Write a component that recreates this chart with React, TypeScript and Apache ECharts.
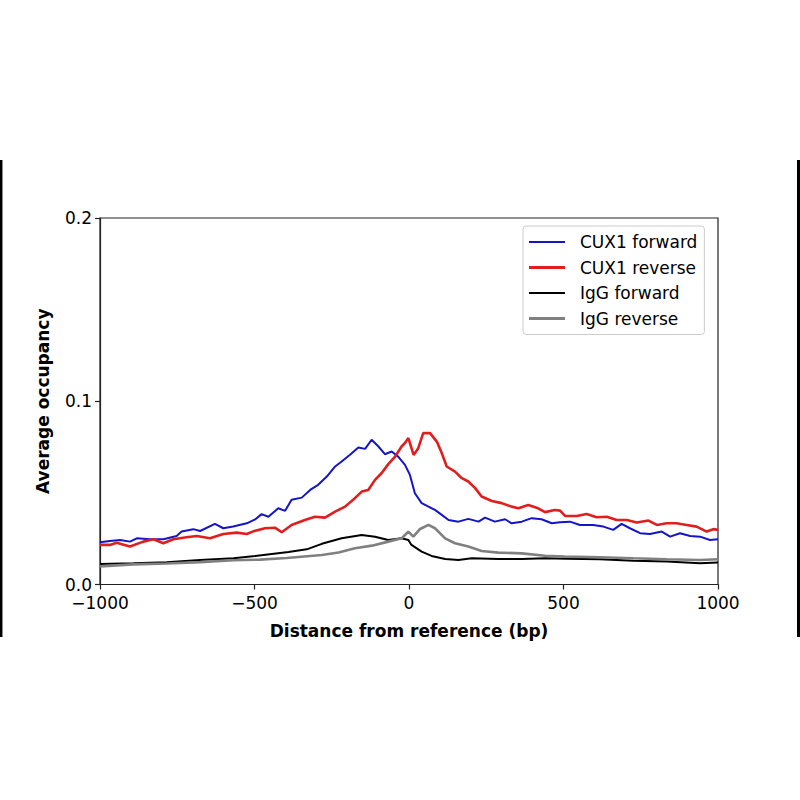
import React, { useEffect, useRef } from "react";
import * as echarts from "echarts";

// CUX1 forward
const cux1ForwardBp = [-1000, -968, -935, -903, -881, -838, -795, -752, -736, -698, -676, -628, -601, -569, -525, -498, -477, -455, -423, -401, -380, -347, -320, -294, -266, -239, -218, -191, -164, -142, -121, -99, -78, -56, -35, -13, 3, 19, 41, 63, 84, 106, 128, 160, 192, 225, 246, 278, 311, 332, 365, 397, 429, 462, 489, 521, 553, 596, 629, 661, 688, 715, 748, 780, 818, 845, 877, 910, 942, 974, 1000];
const cux1ForwardVal = [0.0231, 0.0238, 0.0243, 0.0234, 0.0252, 0.0247, 0.0247, 0.0265, 0.0289, 0.0302, 0.0292, 0.0331, 0.0307, 0.0316, 0.0334, 0.0355, 0.0384, 0.037, 0.0416, 0.0402, 0.0462, 0.0474, 0.0516, 0.0544, 0.0589, 0.0644, 0.0671, 0.0708, 0.0748, 0.074, 0.079, 0.0753, 0.0711, 0.0726, 0.0698, 0.0653, 0.0598, 0.0498, 0.0444, 0.0425, 0.0407, 0.038, 0.0352, 0.0343, 0.0358, 0.0343, 0.0365, 0.0343, 0.0356, 0.0334, 0.0343, 0.0362, 0.0356, 0.0334, 0.034, 0.0343, 0.0325, 0.0325, 0.0316, 0.0298, 0.0331, 0.0307, 0.028, 0.0276, 0.0289, 0.0261, 0.028, 0.0265, 0.0261, 0.0243, 0.0247];

// CUX1 reverse
const cux1ReverseBp = [-1000, -968, -946, -903, -860, -827, -795, -763, -720, -687, -644, -601, -558, -525, -504, -466, -434, -412, -380, -337, -304, -272, -239, -207, -175, -153, -132, -110, -89, -67, -45, -24, -13, -2, 15, 30, 46, 68, 90, 106, 122, 149, 171, 192, 214, 235, 268, 300, 332, 354, 386, 418, 440, 472, 489, 505, 543, 575, 607, 640, 672, 705, 737, 775, 802, 834, 866, 899, 931, 963, 985, 1000];
const cux1ReverseVal = [0.0216, 0.0216, 0.0228, 0.0207, 0.0234, 0.0247, 0.0225, 0.0247, 0.0258, 0.0265, 0.0252, 0.0276, 0.0283, 0.0276, 0.029, 0.0307, 0.031, 0.0285, 0.0325, 0.0352, 0.037, 0.0365, 0.0398, 0.0425, 0.0471, 0.0507, 0.0516, 0.0571, 0.0607, 0.0657, 0.0698, 0.0753, 0.0772, 0.0799, 0.0707, 0.0744, 0.0826, 0.0826, 0.078, 0.0717, 0.0644, 0.0616, 0.058, 0.0562, 0.0526, 0.048, 0.0456, 0.0444, 0.0425, 0.0416, 0.0434, 0.0416, 0.0395, 0.0407, 0.0403, 0.0374, 0.0374, 0.0385, 0.0367, 0.037, 0.0352, 0.0352, 0.0338, 0.0349, 0.0325, 0.0334, 0.0334, 0.0325, 0.0316, 0.0289, 0.0302, 0.0298];

// IgG forward
const iggForwardBp = [-1000, -892, -784, -676, -568, -498, -390, -331, -282, -218, -153, -110, -67, -24, -2, 8, 41, 73, 117, 160, 203, 289, 365, 440, 510, 618, 726, 834, 942, 1000];
const iggForwardVal = [0.0112, 0.0116, 0.0121, 0.0134, 0.0143, 0.0155, 0.0177, 0.0192, 0.0222, 0.0252, 0.027, 0.0261, 0.0243, 0.0252, 0.0243, 0.0216, 0.0179, 0.0156, 0.0139, 0.0134, 0.0143, 0.0139, 0.0139, 0.0143, 0.0141, 0.0138, 0.013, 0.0125, 0.0116, 0.012];

// IgG reverse
const iggReverseBp = [-1000, -892, -784, -676, -568, -482, -396, -282, -228, -175, -120, -67, -24, -13, -2, 14, 36, 63, 84, 117, 149, 192, 235, 289, 365, 440, 503, 618, 726, 834, 942, 1000];
const iggReverseVal = [0.0099, 0.011, 0.0115, 0.0122, 0.0132, 0.0136, 0.0145, 0.0161, 0.0175, 0.0198, 0.0212, 0.0234, 0.0252, 0.027, 0.0289, 0.0261, 0.0303, 0.0325, 0.0307, 0.0252, 0.0225, 0.0207, 0.0183, 0.0174, 0.017, 0.0157, 0.0152, 0.0149, 0.0143, 0.0138, 0.0134, 0.0138];

const seriesNames = ["CUX1 forward", "CUX1 reverse", "IgG forward", "IgG reverse"];
const seriesColors = ["#1414c8", "#e01e1e", "#000000", "#808080"];
const seriesWidths = [2, 2.6, 2, 2.6];
const xTicks = { min: -1000, max: 1000, interval: 500 };
const yTicks = { min: 0, max: 0.2, interval: 0.1 };

const FONT = "DejaVu Sans";

function zip(xs: number[], ys: number[]) {
  return xs.map((x, i) => [x, ys[i]]);
}

export default function App() {
  const ref = useRef<HTMLDivElement>(null);
  useEffect(() => {
    if (!ref.current) return;
    const chart = echarts.init(ref.current, undefined, { renderer: "svg" });
    const xs = [cux1ForwardBp, cux1ReverseBp, iggForwardBp, iggReverseBp];
    const ys = [cux1ForwardVal, cux1ReverseVal, iggForwardVal, iggReverseVal];
    const series = seriesNames.map((name, i) => ({
      name,
      type: "line",
      data: zip(xs[i], ys[i]),
      symbol: "none",
      showSymbol: false,
      lineStyle: { color: seriesColors[i], width: seriesWidths[i] },
      itemStyle: { color: seriesColors[i] },
      z: 3,
    }));
    const legendData = seriesNames.map((name, i) => ({
      name,
      icon: seriesWidths[i] > 2.2 ? "path://M0,0H36V3H0Z" : "path://M0,0H36V2H0Z",
      itemStyle: { color: seriesColors[i] },
    }));
    chart.setOption({
      animation: false,
      backgroundColor: "#ffffff",
      textStyle: { fontFamily: FONT },
      grid: {
        left: 100,
        top: 218,
        width: 618,
        height: 366.5,
        show: true,
        borderColor: "#222",
        borderWidth: 1.2,
        backgroundColor: "transparent",
      },
      xAxis: {
        type: "value",
        min: xTicks.min,
        max: xTicks.max,
        interval: xTicks.interval,
        name: "Distance from reference (bp)",
        nameLocation: "middle",
        nameGap: 38,
        nameTextStyle: { fontFamily: FONT, fontSize: 17, fontWeight: "bold", color: "#000" },
        axisLine: { show: true, onZero: false, lineStyle: { color: "#222", width: 1.2 } },
        axisTick: { show: true, inside: false, length: 5, lineStyle: { color: "#222", width: 1.2 } },
        axisLabel: {
          fontFamily: FONT,
          fontSize: 17,
          color: "#000",
          margin: 10,
          formatter: (v: number) => (v < 0 ? "\u2212" + Math.abs(v) : String(v)),
        },
        splitLine: { show: false },
      },
      yAxis: {
        type: "value",
        min: yTicks.min,
        max: yTicks.max,
        interval: yTicks.interval,
        name: "Average occupancy",
        nameLocation: "middle",
        nameGap: 49,
        nameTextStyle: { fontFamily: FONT, fontSize: 17, fontWeight: "bold", color: "#000" },
        axisLine: { show: true, onZero: false, lineStyle: { color: "#222", width: 1.2 } },
        axisTick: { show: true, inside: false, length: 5, lineStyle: { color: "#222", width: 1.2 } },
        axisLabel: {
          fontFamily: FONT,
          fontSize: 17,
          color: "#000",
          margin: 8,
          formatter: (v: number) => v.toFixed(1),
        },
        splitLine: { show: false },
      },
      legend: {
        orient: "vertical",
        left: 523,
        top: 226,
        data: legendData,
        itemWidth: 36,
        itemHeight: 14,
        itemGap: 7.5,
        symbolKeepAspect: true,
        padding: [7, 7, 7, 6],
        backgroundColor: "#ffffff",
        borderColor: "#cccccc",
        borderWidth: 1,
        borderRadius: 3,
        textStyle: { fontFamily: FONT, fontSize: 17, color: "#000", lineHeight: 18, padding: [0, 0, 0, 10] },
      },
      graphic: [
        { type: "line", shape: { x1: 1.2, y1: 160, x2: 1.2, y2: 637 }, style: { stroke: "#000", lineWidth: 2.5 } },
        { type: "line", shape: { x1: 798.5, y1: 160, x2: 798.5, y2: 637 }, style: { stroke: "#000", lineWidth: 3 } },
      ],
      series,
    });
    return () => chart.dispose();
  }, []);
  return <div ref={ref} style={{ position: "fixed", left: 0, top: 0, width: 800, height: 800 }} />;
}
